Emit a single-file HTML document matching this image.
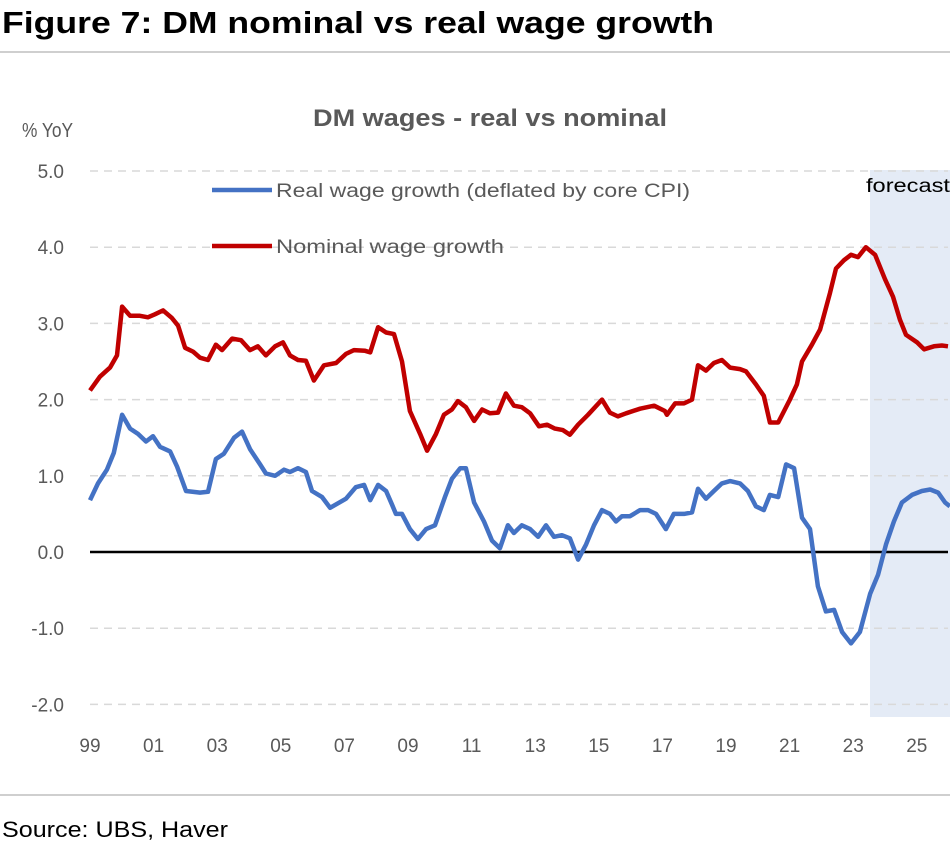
<!DOCTYPE html>
<html><head><meta charset="utf-8"><style>
html,body{margin:0;padding:0;background:#fff;}
svg{display:block;font-family:"Liberation Sans",sans-serif;}
</style></head><body>
<svg id="chart" width="950" height="845" viewBox="0 0 950 845" xmlns="http://www.w3.org/2000/svg">
<text x="2" y="33" font-size="31" font-weight="bold" fill="#000" textLength="712" lengthAdjust="spacingAndGlyphs">Figure 7: DM nominal vs real wage growth</text>
<line x1="0" y1="52" x2="950" y2="52" stroke="#cfcfcf" stroke-width="2"/>
<text x="313" y="126" font-size="24" font-weight="bold" fill="#595959" textLength="354" lengthAdjust="spacingAndGlyphs">DM wages - real vs nominal</text>
<text x="22" y="137" font-size="20" fill="#595959" textLength="51" lengthAdjust="spacingAndGlyphs">% YoY</text>
<rect x="870" y="170" width="80" height="547" fill="#e4ebf6"/>
<text x="866" y="192" font-size="19" fill="#000" textLength="84" lengthAdjust="spacingAndGlyphs">forecast</text>
<g id="grid"></g>
<g id="yticks"></g>
<g id="xticks"></g>
<line x1="90" y1="552" x2="948" y2="552" stroke="#000" stroke-width="2.5"/>
<g id="series"></g>
<line x1="212" y1="190" x2="272" y2="190" stroke="#4472c4" stroke-width="4.5"/>
<text x="276" y="197" font-size="19" fill="#595959" textLength="414" lengthAdjust="spacingAndGlyphs">Real wage growth (deflated by core CPI)</text>
<line x1="212" y1="246" x2="272" y2="246" stroke="#c00000" stroke-width="4.5"/>
<text x="276" y="253" font-size="19" fill="#595959" textLength="228" lengthAdjust="spacingAndGlyphs">Nominal wage growth</text>
<line x1="0" y1="795" x2="950" y2="795" stroke="#cfcfcf" stroke-width="2"/>
<text x="2" y="837" font-size="22" fill="#000" textLength="226" lengthAdjust="spacingAndGlyphs">Source: UBS, Haver</text>
</svg>
<script>
const yTicks = [5.0, 4.0, 3.0, 2.0, 1.0, 0.0, -1.0, -2.0];
const xTickLabels = ["99","01","03","05","07","09","11","13","15","17","19","21","23","25"];
const xTickYears = [1999,2001,2003,2005,2007,2009,2011,2013,2015,2017,2019,2021,2023,2025];
const nominalDates = [1999.00,1999.31,1999.63,1999.85,2000.01,2000.26,2000.57,2000.82,2001.04,2001.30,2001.58,2001.77,2001.99,2002.24,2002.46,2002.71,2002.96,2003.15,2003.47,2003.75,2004.03,2004.28,2004.53,2004.82,2005.07,2005.29,2005.54,2005.79,2006.04,2006.36,2006.74,2007.05,2007.30,2007.65,2007.81,2008.06,2008.31,2008.56,2008.81,2009.06,2009.38,2009.60,2009.88,2010.13,2010.38,2010.57,2010.82,2011.08,2011.33,2011.58,2011.83,2012.08,2012.33,2012.58,2012.84,2013.12,2013.37,2013.62,2013.87,2014.09,2014.35,2014.66,2015.10,2015.35,2015.60,2015.86,2016.30,2016.74,2017.08,2017.14,2017.40,2017.68,2017.93,2018.12,2018.37,2018.62,2018.87,2019.13,2019.44,2019.63,2019.94,2020.19,2020.38,2020.64,2021.01,2021.23,2021.39,2021.70,2021.96,2022.27,2022.46,2022.71,2022.93,2023.15,2023.40,2023.69,2024.00,2024.25,2024.47,2024.66,2025.01,2025.23,2025.54,2025.79,2025.98];
const nominalValues = [2.12,2.3,2.42,2.58,3.22,3.1,3.1,3.08,3.12,3.17,3.07,2.97,2.68,2.63,2.55,2.52,2.72,2.65,2.8,2.78,2.65,2.7,2.58,2.7,2.75,2.58,2.52,2.51,2.25,2.45,2.48,2.6,2.65,2.64,2.62,2.95,2.88,2.86,2.5,1.85,1.55,1.33,1.55,1.8,1.87,1.98,1.9,1.72,1.87,1.82,1.83,2.08,1.92,1.9,1.82,1.65,1.67,1.62,1.6,1.54,1.67,1.8,2.0,1.83,1.78,1.82,1.88,1.92,1.85,1.8,1.95,1.95,2.0,2.45,2.38,2.48,2.52,2.42,2.4,2.37,2.2,2.05,1.7,1.7,2.0,2.2,2.5,2.72,2.92,3.4,3.72,3.83,3.9,3.87,4.0,3.9,3.58,3.35,3.05,2.85,2.75,2.66,2.7,2.71,2.7];
const realDates = [1999.00,1999.25,1999.53,1999.75,2000.01,2000.26,2000.51,2000.76,2000.98,2001.20,2001.52,2001.74,2002.02,2002.46,2002.71,2002.96,2003.21,2003.53,2003.78,2004.03,2004.35,2004.53,2004.82,2005.10,2005.29,2005.54,2005.79,2005.98,2006.30,2006.55,2007.05,2007.36,2007.62,2007.81,2008.06,2008.31,2008.50,2008.62,2008.81,2009.06,2009.31,2009.57,2009.85,2010.16,2010.38,2010.64,2010.82,2011.08,2011.39,2011.64,2011.89,2012.14,2012.33,2012.58,2012.84,2013.09,2013.34,2013.59,2013.84,2014.09,2014.35,2014.60,2014.85,2015.10,2015.35,2015.54,2015.73,2015.98,2016.30,2016.55,2016.80,2017.11,2017.36,2017.68,2017.93,2018.12,2018.37,2018.62,2018.87,2019.13,2019.44,2019.69,2019.94,2020.19,2020.38,2020.64,2020.89,2021.14,2021.39,2021.64,2021.89,2022.14,2022.40,2022.65,2022.93,2023.21,2023.53,2023.78,2024.03,2024.28,2024.53,2024.85,2025.16,2025.42,2025.67,2025.89,2026.04];
const realValues = [0.68,0.9,1.08,1.3,1.8,1.62,1.55,1.45,1.52,1.38,1.32,1.12,0.8,0.78,0.79,1.22,1.29,1.5,1.58,1.35,1.15,1.03,1.0,1.08,1.05,1.1,1.05,0.8,0.72,0.58,0.7,0.85,0.88,0.68,0.88,0.8,0.62,0.5,0.5,0.3,0.17,0.3,0.35,0.72,0.96,1.1,1.1,0.65,0.4,0.15,0.05,0.35,0.25,0.35,0.3,0.2,0.35,0.2,0.22,0.18,-0.1,0.1,0.35,0.55,0.5,0.4,0.47,0.47,0.55,0.55,0.5,0.3,0.5,0.5,0.52,0.83,0.7,0.8,0.9,0.93,0.9,0.8,0.6,0.55,0.75,0.72,1.15,1.1,0.45,0.3,-0.45,-0.78,-0.76,-1.05,-1.2,-1.05,-0.55,-0.3,0.1,0.4,0.65,0.75,0.8,0.82,0.78,0.65,0.6];

const NS = "http://www.w3.org/2000/svg";
function xScale(t){ return 90 + (t - 1999) * 31.8; }
function yScale(v){ return 552 - v * 76.2; }

const grid = document.getElementById('grid');
const yt = document.getElementById('yticks');
yTicks.forEach(v => {
  if (v !== 0) {
    const l = document.createElementNS(NS,'line');
    
    
    l.setAttribute('x1',90); l.setAttribute('x2',948);
    l.setAttribute('y1',yScale(v)); l.setAttribute('y2',yScale(v));
    l.setAttribute('stroke','#d9d9d9'); l.setAttribute('stroke-width','1.5');
    l.setAttribute('stroke-dasharray','8,6');
    grid.appendChild(l);
  }
  const t = document.createElementNS(NS,'text');
  
  
  t.setAttribute('x',64); t.setAttribute('y',yScale(v)+7);
  t.setAttribute('text-anchor','end'); t.setAttribute('font-size','19'); t.setAttribute('fill','#595959');
  t.textContent = v.toFixed(1);
  yt.appendChild(t);
});
const xt = document.getElementById('xticks');
xTickYears.forEach((yr,i) => {
  const t = document.createElementNS(NS,'text');
  
  
  t.setAttribute('x',xScale(yr)); t.setAttribute('y',752);
  t.setAttribute('text-anchor','middle'); t.setAttribute('font-size','19'); t.setAttribute('fill','#595959');
  t.textContent = xTickLabels[i];
  xt.appendChild(t);
});
const sg = document.getElementById('series');
function drawLine(dates, vals, color, name){
  const p = document.createElementNS(NS,'polyline');
  
  
  p.setAttribute('points', dates.map((d,i)=>xScale(d).toFixed(1)+','+yScale(vals[i]).toFixed(1)).join(' '));
  p.setAttribute('fill','none'); p.setAttribute('stroke',color);
  p.setAttribute('stroke-width','4.5'); p.setAttribute('stroke-linejoin','round');
  sg.appendChild(p);
}
drawLine(nominalDates, nominalValues, '#c00000', 'nominal-wage-line');
drawLine(realDates, realValues, '#4472c4', 'real-wage-line');
</script>
</body></html>
